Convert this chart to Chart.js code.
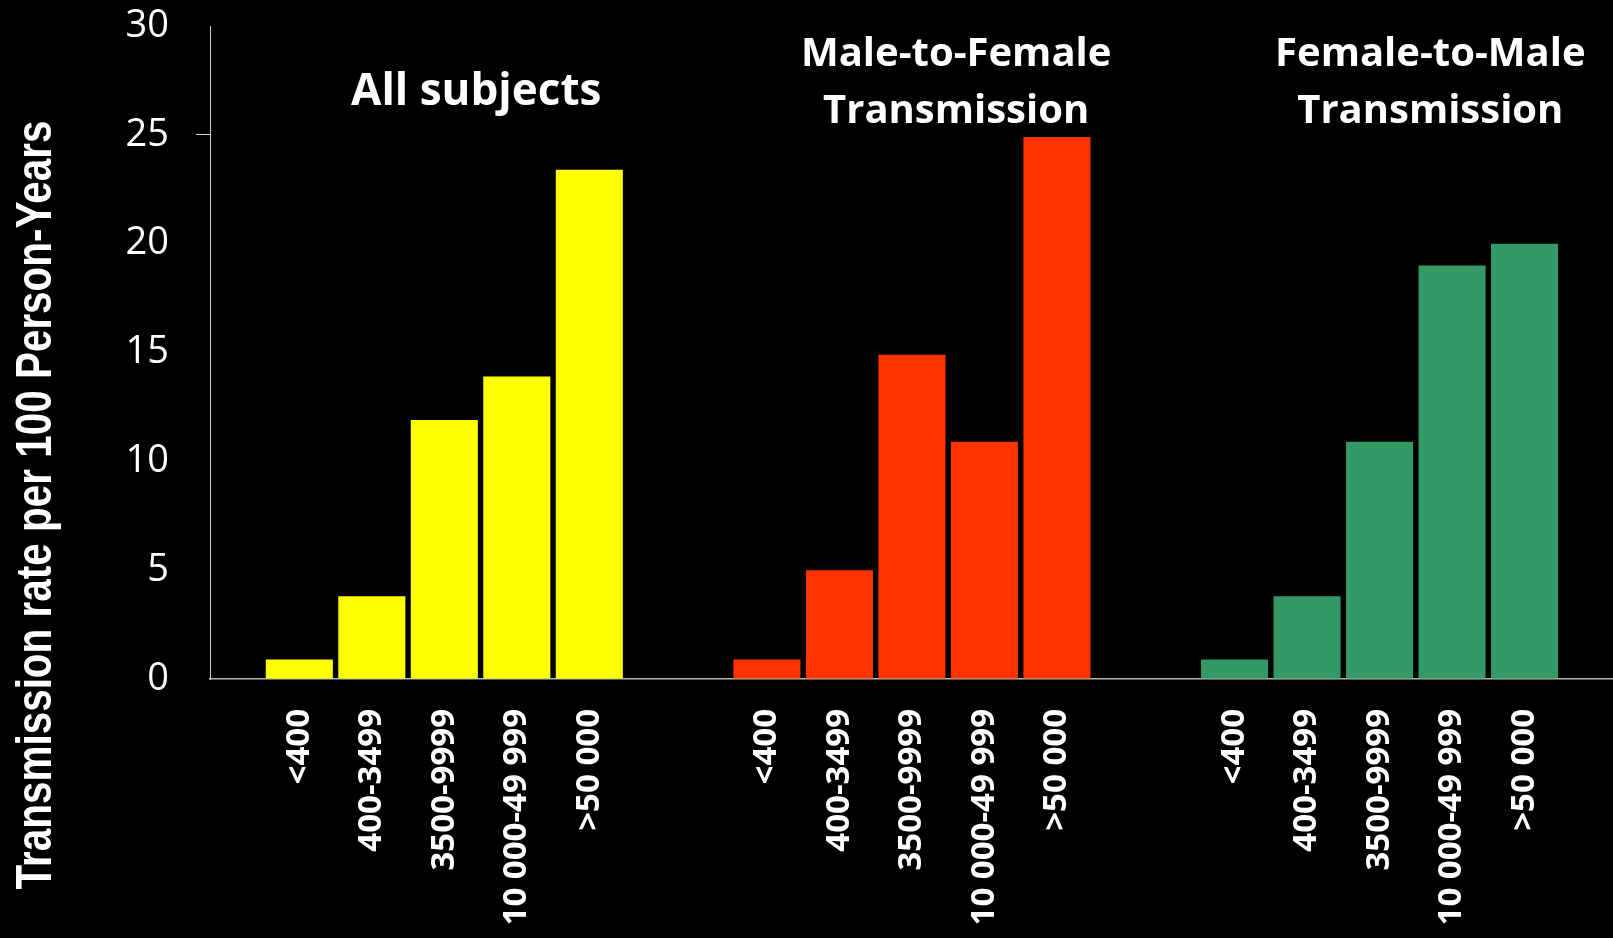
<!DOCTYPE html>
<html>
<head>
<meta charset="utf-8">
<script src="https://cdn.jsdelivr.net/npm/chart.js@4.4.1/dist/chart.umd.min.js"></script>
<style>
  html, body { margin: 0; padding: 0; background: #000; }
  #wrap { width: 1613px; height: 938px; position: relative; background: #000; }
  canvas { display: block; }
</style>
</head>
<body>
<div id="wrap"><canvas id="chart" width="1613" height="938"></canvas></div>
<script>
// Viral load strata (copies/mL) shared by every panel
const viralLoadLabels = ['<400', '400-3499', '3500-9999', '10 000-49 999', '>50 000'];

// Transmission rate per 100 person-years, one array per panel
const allSubjects  = [0.9, 3.8, 11.9, 13.9, 23.4];
const maleToFemale = [0.9, 5.0, 14.9, 10.9, 24.9];
const femaleToMale = [0.9, 3.8, 10.9, 19.0, 20.0];

const panelTitles = [
  ['All subjects'],
  ['Male-to-Female', 'Transmission'],
  ['Female-to-Male', 'Transmission']
];
const panelColors = ['#FFFF00', '#FF3300', '#339966'];
const yAxisTitle = 'Transmission rate per 100 Person-Years';

// Panels sit side by side on one linear x axis; each panel starts GROUP_STRIDE slots after the previous
const GROUP_STRIDE = 6.45;
const panels = [allSubjects, maleToFemale, femaleToMale];
const xPositions = [];
const datasets = panels.map((values, g) => {
  const pts = values.map((v, i) => {
    const x = g * GROUP_STRIDE + i;
    xPositions.push(x);
    return { x: x, y: v };
  });
  return {
    label: panelTitles[g].join(' '),
    data: pts,
    backgroundColor: panelColors[g],
    borderWidth: 0,
    grouped: false,
    barPercentage: 0.925,
    categoryPercentage: 1.0
  };
});

// Title placement: centre in x-axis units, baselines in pixels
const titleLayout = [
  { center: 2.44, baselines: [105], size: 44 },
  { center: 9.06, baselines: [66, 123], size: 40 },
  { center: 15.6, baselines: [66, 123], size: 40 }
];

const panelTitlePlugin = {
  id: 'panelTitles',
  afterDraw(chart) {
    const { ctx } = chart;
    const x = chart.scales.x;
    ctx.save();
    ctx.fillStyle = '#FFFFFF';
    ctx.textAlign = 'center';
    ctx.textBaseline = 'alphabetic';
    titleLayout.forEach((t, g) => {
      ctx.font = 'bold ' + t.size + 'px "Open Sans", sans-serif';
      const cx = x.getPixelForValue(t.center);
      panelTitles[g].forEach((line, li) => ctx.fillText(line, cx, t.baselines[li]));
    });
    ctx.restore();
  }
};

// Condensed bold y-axis title, rotated to read bottom-to-top
const yTitlePlugin = {
  id: 'yTitle',
  afterDraw(chart) {
    const { ctx } = chart;
    const targetLength = 769;
    ctx.save();
    ctx.fillStyle = '#FFFFFF';
    ctx.font = 'bold 50px "Liberation Sans Narrow", "Liberation Sans", sans-serif';
    ctx.textAlign = 'center';
    ctx.textBaseline = 'middle';
    const w = ctx.measureText(yAxisTitle).width;
    ctx.translate(37, 505);
    ctx.rotate(-Math.PI / 2);
    ctx.scale(targetLength / w, 1);
    ctx.fillText(yAxisTitle, 0, 0);
    ctx.restore();
  }
};

new Chart(document.getElementById('chart'), {
  type: 'bar',
  data: { datasets: datasets },
  options: {
    responsive: false,
    animation: false,
    devicePixelRatio: 1,
    layout: { padding: { top: 26, right: 0, bottom: 0, left: 0 } },
    plugins: {
      legend: { display: false },
      tooltip: { enabled: false },
      title: { display: false }
    },
    scales: {
      x: {
        type: 'linear',
        offset: false,
        min: -1.232,
        max: 18.12,
        afterBuildTicks: (scale) => {
          scale.ticks = xPositions.map(v => ({ value: v }));
        },
        afterFit: (scale) => {
          scale.height = 259;
          scale.paddingLeft = 0;
          scale.paddingRight = 0;
          scale.paddingTop = 0;
          scale.paddingBottom = 0;
        },
        ticks: {
          autoSkip: false,
          minRotation: 90,
          maxRotation: 90,
          padding: 30,
          color: '#FFFFFF',
          font: { family: '"Open Sans", sans-serif', size: 33, weight: 'bold' },
          callback: (value, index) => viralLoadLabels[index % viralLoadLabels.length]
        },
        grid: { display: true, offset: false, drawOnChartArea: false, drawTicks: false },
        border: { display: true, color: '#b4b4b4', width: 1.5 }
      },
      y: {
        min: 0,
        max: 30,
        afterFit: (scale) => {
          scale.width = 210;
          scale.paddingTop = 0;
          scale.paddingBottom = 0;
        },
        ticks: {
          stepSize: 5,
          padding: 27,
          color: '#FFFFFF',
          font: { family: '"Open Sans", sans-serif', size: 38 }
        },
        grid: {
          drawOnChartArea: false,
          drawTicks: true,
          tickLength: 14,
          tickColor: (ctx) => (ctx.tick && ctx.tick.value === 25 ? '#d9d9d9' : 'rgba(0,0,0,0)')
        },
        border: { display: true, color: '#d0d0d0', width: 1 }
      }
    }
  },
  plugins: [panelTitlePlugin, yTitlePlugin]
});
</script>
</body>
</html>
